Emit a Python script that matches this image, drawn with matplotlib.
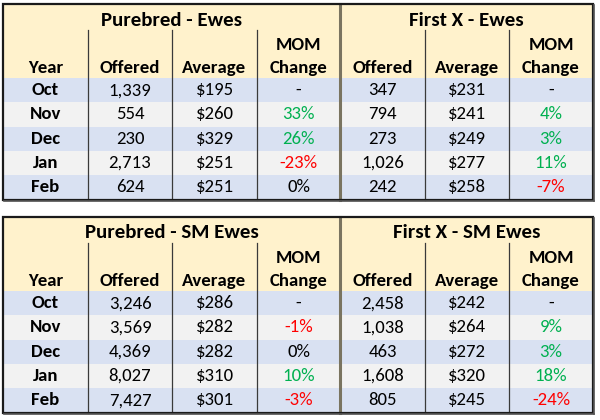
import matplotlib
matplotlib.use("Agg")
import matplotlib.pyplot as plt
from matplotlib.patches import Rectangle
from matplotlib import font_manager

months = ["Oct", "Nov", "Dec", "Jan", "Feb"]

pb_ewes_offered = ["1,339", "554", "230", "2,713", "624"]
pb_ewes_avg = ["$195", "$260", "$329", "$251", "$251"]
pb_ewes_mom = ["-", "33%", "26%", "-23%", "0%"]

fx_ewes_offered = ["347", "794", "273", "1,026", "242"]
fx_ewes_avg = ["$231", "$241", "$249", "$277", "$258"]
fx_ewes_mom = ["-", "4%", "3%", "11%", "-7%"]

pb_sm_offered = ["3,246", "3,569", "4,369", "8,027", "7,427"]
pb_sm_avg = ["$286", "$282", "$282", "$310", "$301"]
pb_sm_mom = ["-", "-1%", "0%", "10%", "-3%"]

fx_sm_offered = ["2,458", "1,038", "463", "1,608", "805"]
fx_sm_avg = ["$242", "$264", "$272", "$320", "$245"]
fx_sm_mom = ["-", "9%", "3%", "18%", "-24%"]

titles_top = ["Purebred - Ewes", "First X - Ewes"]
titles_bottom = ["Purebred - SM Ewes", "First X - SM Ewes"]

avail = {f.name for f in font_manager.fontManager.ttflist}
fam = [f for f in ["Carlito", "Lato", "DejaVu Sans"] if f in avail]
plt.rcParams["font.family"] = fam

YELLOW = "#FFF2CC"
BLUE = "#D9E1F2"
GRAY = "#F2F2F2"
GREEN = "#00B050"
RED = "#FF0000"

fig = plt.figure(figsize=(6, 4.2), dpi=100)
ax = fig.add_axes([0, 0, 1, 1])
ax.set_xlim(0, 600)
ax.set_ylim(420, 0)
ax.axis("off")

xs = [3, 88, 172, 257, 340, 425, 509, 593]
centers = [(xs[i] + xs[i + 1]) / 2 for i in range(7)]


def mom_color(s):
    if s.startswith("-") and len(s) > 1:
        return RED
    if s in ("-", "0%"):
        return "black"
    return GREEN


def draw_table(top, titles, left, right, fs=13.5, tfs=15):
    head_bot = top + 74
    row_h = 24.3
    bottom = head_bot + 5 * row_h
    # header background
    ax.add_patch(Rectangle((xs[0], top), xs[-1] - xs[0], head_bot - top,
                           facecolor=YELLOW, edgecolor="none", zorder=0))
    for i in range(5):
        y0 = head_bot + i * row_h
        ax.add_patch(Rectangle((xs[0], y0), xs[-1] - xs[0], row_h,
                               facecolor=BLUE if i % 2 == 0 else GRAY,
                               edgecolor="none", zorder=0))
    # vertical lines
    for k in [1, 2, 3, 5, 6]:
        ax.plot([xs[k], xs[k]], [top + 26, bottom], color="#3a3a3a", lw=0.9, zorder=2)
    ax.plot([xs[4], xs[4]], [top, bottom], color="#7a7460", lw=2.2, zorder=2)
    # outer border
    ax.add_patch(Rectangle((xs[0], top), xs[-1] - xs[0], bottom - top,
                           facecolor="none", edgecolor="#1a1a1a", lw=1.6, zorder=3))
    ax.plot([xs[-1] + 1.2, xs[-1] + 1.2], [top + 1, bottom + 1.2], color="#555555", lw=1.2, zorder=3)
    ax.plot([xs[0] + 1, xs[-1] + 1.2], [bottom + 1.2, bottom + 1.2], color="#555555", lw=1.2, zorder=3)

    # titles
    ax.text((xs[0] + xs[4]) / 2, top + 16, titles[0], ha="center", va="center",
            fontsize=tfs, fontweight="bold", zorder=4)
    ax.text((xs[4] + xs[7]) / 2, top + 16, titles[1], ha="center", va="center",
            fontsize=tfs, fontweight="bold", zorder=4)
    # column headers
    hdr = ["Year", "Offered", "Average", "Change", "Offered", "Average", "Change"]
    for c, h in zip(centers, hdr):
        ax.text(c, top + 64, h, ha="center", va="center", fontsize=fs,
                fontweight="bold", zorder=4)
    for c in (centers[3], centers[6]):
        ax.text(c, top + 41, "MOM", ha="center", va="center", fontsize=fs,
                fontweight="bold", zorder=4)
    # data
    cols = [left[0], left[1], left[2], right[0], right[1], right[2]]
    for i, m in enumerate(months):
        yc = head_bot + (i + 0.5) * row_h
        ax.text(centers[0], yc, m, ha="center", va="center", fontsize=fs,
                fontweight="bold", zorder=4)
        for j, col in enumerate(cols):
            s = col[i]
            color = mom_color(s) if j in (2, 5) else "black"
            ax.text(centers[j + 1], yc, s, ha="center", va="center",
                    fontsize=fs, color=color, zorder=4)


draw_table(4, titles_top,
           (pb_ewes_offered, pb_ewes_avg, pb_ewes_mom),
           (fx_ewes_offered, fx_ewes_avg, fx_ewes_mom))
draw_table(217, titles_bottom,
           (pb_sm_offered, pb_sm_avg, pb_sm_mom),
           (fx_sm_offered, fx_sm_avg, fx_sm_mom))

fig.savefig("out.png", dpi=100)
